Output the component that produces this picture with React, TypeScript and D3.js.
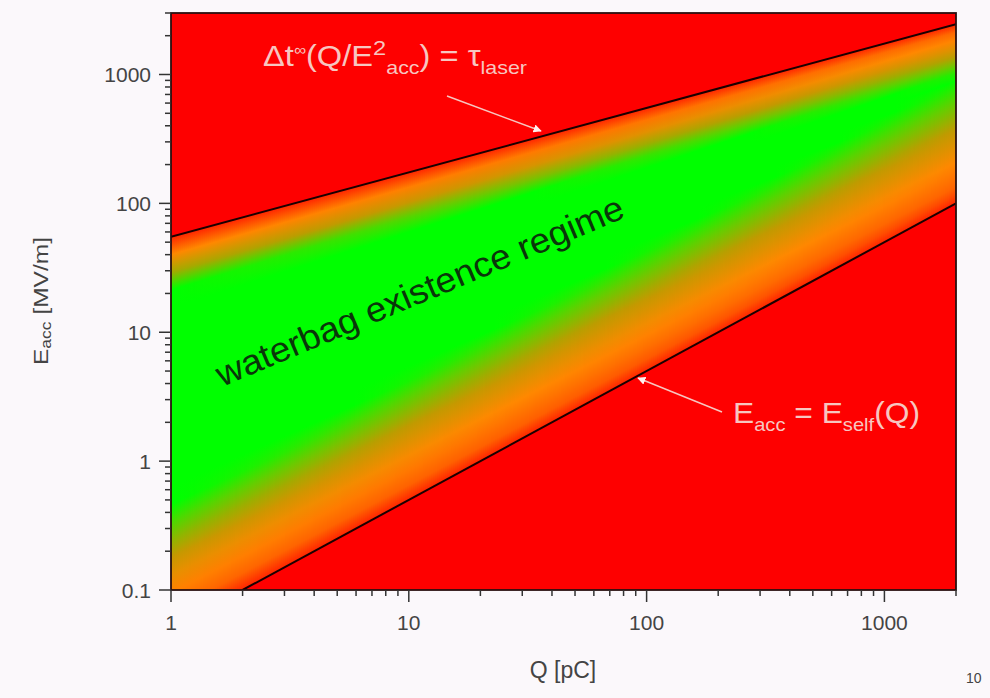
import * as d3 from 'd3';

// boundary lines of the regime (log-log straight lines)
const upperBoundary = [
    { q: 1, e: 55 },
    { q: 2000, e: 2460 },
];
const lowerBoundary = [
    { q: 2, e: 0.1 },
    { q: 2000, e: 100 },
];

const qDomain = [1, 2000];
const eDomain = [0.1, 3000];

const xMajorTicks = [1, 10, 100, 1000];
const xTickLabels = ['1', '10', '100', '1000'];
const yMajorTicks = [0.1, 1, 10, 100, 1000];
const yTickLabels = ['0.1', '1', '10', '100', '1000'];

const W = 990;
const H = 698;
const left = 171;
const right = 956;
const top = 13;
const bottom = 590;
const FONT = 'Liberation Sans, Arial, sans-serif';

// fade widths (in decades) of the band away from each line
const fadeUpper = 0.45;
const fadeLower = 1.05;

const ramp = d3
    .scaleLinear<string>()
    .domain([0, 0.1, 0.3, 0.55, 0.75, 0.92])
    .range(['#ff2400', '#ff6000', '#ff8800', '#c09a00', '#60d000', '#00ff00'])
    .interpolate(d3.interpolateRgb)
    .clamp(true);

function boundaryLog(b, q) {
    const [a, c] = b;
    const t = (Math.log10(q) - Math.log10(a.q)) / (Math.log10(c.q) - Math.log10(a.q));
    return Math.log10(a.e) + t * (Math.log10(c.e) - Math.log10(a.e));
}

function App() {
    const x = d3.scaleLog(qDomain, [left, right]);
    const y = d3.scaleLog(eDomain, [bottom, top]);

    const xMinor = x.ticks().filter((t) => !xMajorTicks.some((m) => Math.abs(m - t) < 1e-9));
    const yMinor = y.ticks().filter((t) => !yMajorTicks.some((m) => Math.abs(m - t) < 1e-9));

    // band between lines, drawn as thin columns with a vertical gradient each
    const step = 2;
    const columns = [];
    for (let px = left; px < right; px += step) {
        const q = x.invert(px + step / 2);
        const lu = boundaryLog(upperBoundary, q);
        const ll = boundaryLog(lowerBoundary, q);
        const stops = [];
        const n = 22;
        for (let i = 0; i <= n; i++) {
            const s = i / n;
            const le = lu - s * (lu - ll);
            const g = Math.min((lu - le) / fadeUpper, (le - ll) / fadeLower);
            stops.push({ offset: s, color: ramp(g) });
        }
        columns.push({ px, yU: y(10 ** lu), yL: y(10 ** ll), stops });
    }

    const bandPts = [
        ...qDomain.map((q) => [x(q), y(10 ** boundaryLog(upperBoundary, q))]),
        ...qDomain
            .slice()
            .reverse()
            .map((q) => [x(q), y(10 ** boundaryLog(lowerBoundary, q))]),
    ];

    const line = d3
        .line<{ q: number; e: number }>()
        .x((d) => x(d.q))
        .y((d) => y(d.e));

    const upperExt = qDomain.map((q) => ({ q, e: 10 ** boundaryLog(upperBoundary, q) }));

    const annot = '#f7c6c0';

    return (
        <svg width={W} height={H} style={{ position: 'absolute', left: 0, top: 0 }} fontFamily={FONT}>
            <defs>
                <clipPath id="plot">
                    <rect x={left} y={top} width={right - left} height={bottom - top} />
                </clipPath>
                <clipPath id="band">
                    <polygon points={bandPts.map((p) => p.join(',')).join(' ')} />
                </clipPath>
                {columns.map((c, i) => (
                    <linearGradient key={i} id={`col${i}`} gradientUnits="userSpaceOnUse" x1={0} y1={c.yU} x2={0} y2={c.yL}>
                        {c.stops.map((s, j) => (
                            <stop key={j} offset={s.offset} stopColor={s.color} />
                        ))}
                    </linearGradient>
                ))}
                <marker id="arrow" viewBox="0 0 10 10" refX="9" refY="5" markerWidth="5.5" markerHeight="5.5" orient="auto">
                    <path d="M0,0 L10,5 L0,10 z" fill="#fff0ee" />
                </marker>
            </defs>

            <rect width={W} height={H} fill="#fbf8fb" />

            <g clipPath="url(#plot)">
                <rect x={left} y={top} width={right - left} height={bottom - top} fill="#fe0000" />
                <g clipPath="url(#band)">
                    {columns.map((c, i) => (
                        <rect key={i} x={c.px} y={top} width={step + 0.6} height={bottom - top} fill={`url(#col${i})`} />
                    ))}
                </g>
                <path d={line(upperExt)} fill="none" stroke="#1a0000" strokeWidth={2} />
                <path d={line(lowerBoundary)} fill="none" stroke="#1a0000" strokeWidth={2} />
            </g>

            <rect x={left} y={top} width={right - left} height={bottom - top} fill="none" stroke="#2a1010" strokeWidth={1.8} />

            {/* ticks */}
            <g stroke="#333" strokeWidth={1.5}>
                {xMajorTicks.map((t) => (
                    <line key={t} x1={x(t)} x2={x(t)} y1={bottom} y2={bottom + 12} />
                ))}
                {xMinor.map((t) => (
                    <line key={t} x1={x(t)} x2={x(t)} y1={bottom} y2={bottom + 6} />
                ))}
                {yMajorTicks.map((t) => (
                    <line key={t} x1={left - 12} x2={left} y1={y(t)} y2={y(t)} />
                ))}
                {yMinor.map((t) => (
                    <line key={t} x1={left - 6} x2={left} y1={y(t)} y2={y(t)} />
                ))}
            </g>
            <g fill="#444" fontSize={21}>
                {xMajorTicks.map((t, i) => (
                    <text key={t} x={x(t)} y={630} textAnchor="middle">
                        {xTickLabels[i]}
                    </text>
                ))}
                {yMajorTicks.map((t, i) => (
                    <text key={t} x={151} y={y(t) + 7.5} textAnchor="end">
                        {yTickLabels[i]}
                    </text>
                ))}
            </g>

            <text x={563} y={678} textAnchor="middle" fontSize={23} fill="#444">
                Q [pC]
            </text>
            <text
                transform="translate(40,301) rotate(-90)"
                textAnchor="middle"
                dominantBaseline="central"
                fontSize={21}
                fill="#444"
                textLength={128}
                lengthAdjust="spacingAndGlyphs"
            >
                E<tspan dy={5} fontSize={15}>acc</tspan>
                <tspan dy={-5}> [MV/m]</tspan>
            </text>
            <text x={966} y={683} fontSize={14} fill="#444">
                10
            </text>

            {/* regime label */}
            <text
                transform="translate(222,387) rotate(-22.8)"
                fontSize={35}
                fill="#0a360a"
                textLength={439}
                lengthAdjust="spacingAndGlyphs"
            >
                waterbag existence regime
            </text>

            {/* annotations */}
            <text x={263} y={66} fontSize={29} fill={annot} textLength={264} lengthAdjust="spacingAndGlyphs">
                Δt<tspan dy={-11} fontSize={15}>∞</tspan>
                <tspan dy={11}>(Q/E</tspan>
                <tspan dy={-11} fontSize={21}>2</tspan>
                <tspan dy={19} fontSize={19}>acc</tspan>
                <tspan dy={-8}>) = τ</tspan>
                <tspan dy={8} fontSize={19}>laser</tspan>
            </text>
            <line x1={447} y1={96} x2={541} y2={131} stroke={annot} strokeWidth={1.5} markerEnd="url(#arrow)" />

            <text x={733} y={423} fontSize={30} fill={annot} textLength={187} lengthAdjust="spacingAndGlyphs">
                E<tspan dy={8} fontSize={19}>acc</tspan>
                <tspan dy={-8}> = E</tspan>
                <tspan dy={8} fontSize={19}>self</tspan>
                <tspan dy={-8}>(Q)</tspan>
            </text>
            <line x1={722} y1={412} x2={638} y2={378} stroke={annot} strokeWidth={1.5} markerEnd="url(#arrow)" />
        </svg>
    );
}

export default App;
